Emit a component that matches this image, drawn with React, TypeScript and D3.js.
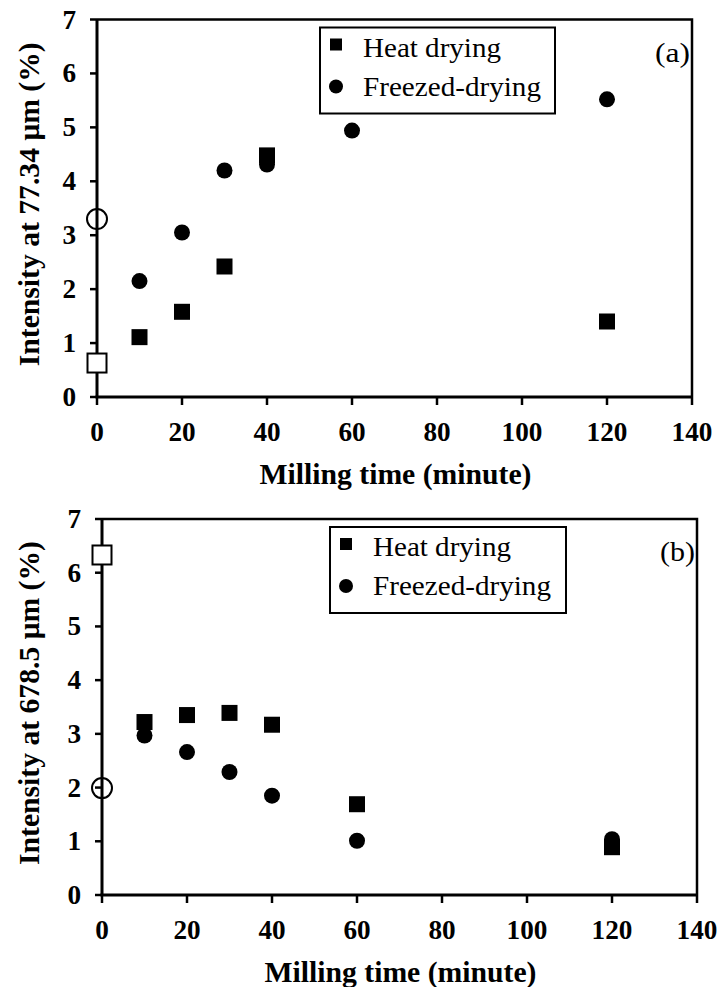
import React from 'react';
import * as d3 from 'd3';

// milling time (minute)
const minutes = [0, 10, 20, 30, 40, 60, 120];
// intensity at 77.34 um (%); heat drying at 60 min sits hidden under the circle
const heatA: (number | null)[] = [0.63, 1.11, 1.58, 2.42, 4.48, null, 1.40];
const freezeA = [3.30, 2.15, 3.05, 4.20, 4.31, 4.94, 5.52];
// intensity at 678.5 um (%)
const heatB: (number | null)[] = [6.33, 3.22, 3.35, 3.39, 3.17, 1.69, 0.89];
const freezeB = [1.99, 2.97, 2.66, 2.29, 1.85, 1.01, 1.04];

const xTicks = [0, 20, 40, 60, 80, 100, 120, 140];
const yTicks = [0, 1, 2, 3, 4, 5, 6, 7];
const legendNames = ['Heat drying', 'Freezed-drying'];

const serif = 'Liberation Serif';
const tickSize = 28;
const digitW = 13.6; // the source digits are a bit wide

type PanelProps = {
  heat: (number | null)[];
  freeze: number[];
  left: number;
  right: number;
  top: number;
  bottom: number;
  yTitle: string;
  tag: string;
  legendX: number;
  legendW: number;
};

const Panel = ({ heat, freeze, left, right, top, bottom, yTitle, tag, legendX, legendW }: PanelProps) => {
  const x = d3.scaleLinear().domain([0, 140]).range([left, right]);
  const y = d3.scaleLinear().domain([0, 7]).range([bottom, top]);
  const legendY = top + 8;

  return (
    <g>
      {/* frame top + right */}
      <path d={`M ${left} ${top} H ${right} V ${bottom}`} fill="none" stroke="#000" strokeWidth={2.5} />
      {/* axes */}
      <line x1={left} x2={left} y1={top} y2={bottom} stroke="#000" strokeWidth={3} />
      <line x1={left - 1.5} x2={right} y1={bottom} y2={bottom} stroke="#000" strokeWidth={3} />

      {yTicks.map(v => (
        <g key={'y' + v} transform={`translate(0, ${y(v)})`}>
          <line x1={left - 7} x2={left} stroke="#000" strokeWidth={2.5} />
          <text x={left - 21} dy="9" textAnchor="end" fontFamily={serif} fontWeight="bold" fontSize={tickSize}
            textLength={String(v).length * digitW} lengthAdjust="spacingAndGlyphs">{v}</text>
        </g>
      ))}
      {xTicks.map(v => (
        <g key={'x' + v} transform={`translate(${x(v)}, 0)`}>
          <line y1={bottom} y2={bottom + 8} stroke="#000" strokeWidth={2.5} />
          <text y={bottom + 44} textAnchor="middle" fontFamily={serif} fontWeight="bold" fontSize={tickSize}
            textLength={String(v).length * digitW} lengthAdjust="spacingAndGlyphs">{v}</text>
        </g>
      ))}

      <text x={(left + right) / 2 + 1} y={bottom + 87} textAnchor="middle" fontFamily={serif}
        fontWeight="bold" fontSize={29} textLength={272} lengthAdjust="spacingAndGlyphs">
        Milling  time (minute)
      </text>
      <text transform={`translate(39, ${(top + bottom) / 2 - 4}) rotate(-90)`} textAnchor="middle"
        fontFamily={serif} fontWeight="bold" fontSize={30} textLength={324} lengthAdjust="spacingAndGlyphs">
        {yTitle}
      </text>

      {/* squares first, circles drawn over them */}
      {minutes.map((m, i) => {
        const v = heat[i];
        if (v == null) return null;
        return i === 0 ? (
          <rect key={'h' + i} x={x(m) - 9.5} y={y(v) - 9.5} width={19} height={19}
            fill="#fff" stroke="#000" strokeWidth={2} />
        ) : (
          <rect key={'h' + i} x={x(m) - 8} y={y(v) - 8} width={16} height={16} fill="#000" />
        );
      })}
      {minutes.map((m, i) => i === 0 ? (
        <circle key={'f' + i} cx={x(m)} cy={y(freeze[i])} r={10} fill="none" stroke="#000" strokeWidth={2} />
      ) : (
        <circle key={'f' + i} cx={x(m)} cy={y(freeze[i])} r={8} fill="#000" />
      ))}

      {/* legend */}
      <rect x={legendX} y={legendY} width={legendW} height={86} fill="#fff" stroke="#000" strokeWidth={2} />
      <rect x={legendX + 10} y={legendY + 11} width={12} height={12} fill="#000" />
      <circle cx={legendX + 16} cy={legendY + 59} r={7} fill="#000" />
      <text x={legendX + 43} y={legendY + 29} fontFamily={serif} fontSize={27}
        textLength={138} lengthAdjust="spacingAndGlyphs">{legendNames[0]}</text>
      <text x={legendX + 43} y={legendY + 68} fontFamily={serif} fontSize={27}
        textLength={178} lengthAdjust="spacingAndGlyphs">{legendNames[1]}</text>

      <text x={right - 37} y={top + 42} fontFamily={serif} fontSize={28}
        textLength={35} lengthAdjust="spacingAndGlyphs">{tag}</text>
    </g>
  );
};

export default function App() {
  return (
    <svg width={719} height={987} style={{ position: 'absolute', left: 0, top: 0, background: '#fff' }}>
      <rect width={719} height={987} fill="#fff" />
      <Panel heat={heatA} freeze={freezeA} left={97} right={692} top={19.5} bottom={397}
        yTitle="Intensity at 77.34 μm (%)" tag="(a)" legendX={320} legendW={235} />
      <Panel heat={heatB} freeze={freezeB} left={102} right={697} top={519} bottom={895}
        yTitle="Intensity at 678.5 μm (%)" tag="(b)" legendX={330} legendW={236} />
    </svg>
  );
}
